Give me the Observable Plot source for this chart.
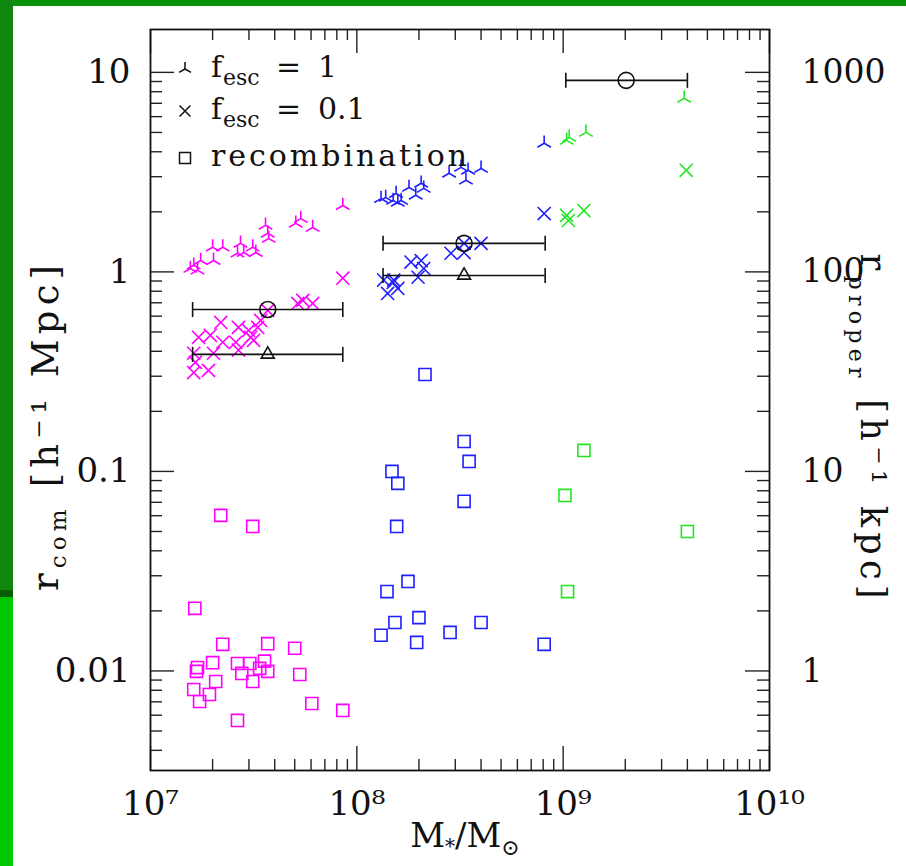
<!DOCTYPE html>
<html><head><meta charset="utf-8">
<script src="https://cdn.jsdelivr.net/npm/d3@7"></script>
<script src="https://cdn.jsdelivr.net/npm/@observablehq/plot@0.6"></script>
<style>
body{margin:0;background:#fff;}
#wrap{position:relative;width:906px;height:866px;overflow:hidden;background:#fff;}
#wrap svg{position:absolute;left:0;top:0;}
.strip{position:absolute;}
</style></head><body>
<div id="wrap"></div>
<script>
// ---- data (stellar mass M*/Msun, comoving radius h^-1 Mpc) ----
const magentaTri = [[1.56e7,1.04],[1.62e7,1.08],[1.69e7,1.02],[1.75e7,1.14],[2.00e7,1.33],[2.02e7,1.14],[2.24e7,1.33],[2.64e7,1.24],[2.73e7,1.39],[2.83e7,1.25],[3.13e7,1.33],[3.24e7,1.25],[3.61e7,1.71],[3.70e7,1.56],[3.74e7,1.47],[5.06e7,1.75],[5.35e7,1.85],[6.11e7,1.67],[8.55e7,2.15]];
const magentaX = [[8.55e7,0.93],[5.17e7,0.695],[5.47e7,0.72],[6.11e7,0.695],[3.70e7,0.641],[3.42e7,0.571],[2.19e7,0.558],[1.71e7,0.470],[1.95e7,0.481],[2.67e7,0.527],[2.99e7,0.509],[3.31e7,0.527],[2.24e7,0.444],[2.59e7,0.444],[3.06e7,0.470],[3.16e7,0.454],[2.67e7,0.405],[2.02e7,0.391],[1.62e7,0.391],[1.65e7,0.352],[1.62e7,0.313],[1.91e7,0.321]];
const magentaSq = [[2.19e7,0.0602],[3.13e7,0.0530],[1.64e7,0.0206],[2.24e7,0.0136],[3.70e7,0.0137],[5.00e7,0.0130],[2.00e7,0.0110],[2.64e7,0.0109],[3.03e7,0.0109],[3.57e7,0.0112],[1.69e7,0.0104],[1.67e7,0.00995],[2.77e7,0.00972],[3.38e7,0.0103],[3.70e7,0.00995],[5.29e7,0.0096],[2.07e7,0.00885],[3.13e7,0.00885],[1.62e7,0.00807],[1.93e7,0.00762],[1.73e7,0.00703],[6.05e7,0.00687],[8.55e7,0.00634],[2.64e7,0.00565]];
const blueTri = [[1.31e8,2.33],[1.38e8,2.36],[1.50e8,2.28],[1.55e8,2.47],[1.58e8,2.23],[1.64e8,2.28],[1.79e8,2.65],[1.93e8,2.42],[2.05e8,2.78],[2.11e8,2.62],[2.80e8,3.12],[3.20e8,3.34],[3.38e8,2.88],[3.46e8,3.23],[4.00e8,3.30],[8.09e8,4.41]];
const blueX = [[8.09e8,1.96],[2.86e8,1.24],[3.31e8,1.25],[4.00e8,1.39],[3.31e8,1.39],[1.83e8,1.12],[2.05e8,1.14],[2.11e8,1.04],[1.98e8,0.94],[1.35e8,0.91],[1.51e8,0.91],[1.50e8,0.885],[1.41e8,0.78],[1.58e8,0.826]];
const blueSq = [[2.14e8,0.306],[3.31e8,0.1413],[3.50e8,0.1122],[1.48e8,0.100],[1.58e8,0.0871],[3.31e8,0.0708],[1.56e8,0.0530],[1.77e8,0.0281],[1.40e8,0.0250],[2.00e8,0.0185],[1.53e8,0.0175],[1.31e8,0.0151],[1.95e8,0.0139],[2.83e8,0.0156],[4.00e8,0.0175],[8.09e8,0.0136]];
const greenTri = [[1.04e9,4.56],[1.07e9,4.72],[1.29e9,5.00],[3.86e9,7.41]];
const greenX = [[3.95e9,3.23],[1.04e9,1.92],[1.06e9,1.81],[1.26e9,2.03]];
const greenSq = [[1.26e9,0.1274],[1.02e9,0.0758],[1.05e9,0.0250],[4.00e9,0.0500]];
const summaryCircle = [[3.70e7,0.648],[3.31e8,1.39],[2.02e9,9.12]];
const summaryTri = [[3.70e7,0.386],[3.31e8,0.96]];
const errorBars = [[1.60e7,8.55e7,0.648],[1.34e8,8.18e8,1.39],[1.03e9,4.00e9,9.12],[1.60e7,8.55e7,0.386],[1.34e8,8.18e8,0.96]];

const xMajor = [1e7,1e8,1e9,1e10];
const xLabels = ["10⁷","10⁸","10⁹","10¹⁰"];
const yMajor = [0.01,0.1,1,10];
const yLeftLabels = ["0.01","0.1","1","10"];
const yRightLabels = ["1","10","100","1000"];
const yDomain = [0.00317,16.4];

const MAGENTA = "#ff00ff", BLUE = "#1f1fff", GREEN = "#22e622";

// ---- symbols ----
const tripod = {draw(ctx, size){ const r = Math.sqrt(size/Math.PI)*1.15;
  ctx.moveTo(0,0); ctx.lineTo(0,-r);
  ctx.moveTo(0,0); ctx.lineTo(r*0.866,r*0.5);
  ctx.moveTo(0,0); ctx.lineTo(-r*0.866,r*0.5);}};
const capBar = {draw(ctx, size){ const h = Math.sqrt(size/Math.PI); ctx.moveTo(0,-h); ctx.lineTo(0,h);}};

const W = 906, H = 866, mL = 150, mR = 137, mT = 29, mB = 96;
const innerW = W - mL - mR, innerH = H - mT - mB;
const decadesX = [1e7,1e8,1e9];
const xMinor = decadesX.flatMap(d => [2,3,4,5,6,7,8,9].map(k => k*d));
const yMinor = [1e-3,1e-2,1e-1,1,10].flatMap(d => [2,3,4,5,6,7,8,9].map(k => k*d)).filter(v => v > yDomain[0] && v < yDomain[1]);

const pt = d => ({x: d[0], y: d[1]});
const series = (arr, symbol, color, r) => Plot.dot(arr.map(pt), {x:"x", y:"y", symbol, r, stroke: color, fill:"none", strokeWidth:1.6});

const tickStyle = {stroke:"#222", strokeWidth:1.4};
const chart = Plot.plot({
  width: W, height: H, marginLeft: mL, marginRight: mR, marginTop: mT, marginBottom: mB,
  style: {fontFamily: "DejaVu Serif", background: "transparent", color: "#111"},
  x: {type: "log", domain: [1e7, 1e10]},
  y: {type: "log", domain: yDomain},
  marks: [
    series(magentaSq, "square", MAGENTA, 6.8),
    series(blueSq, "square", BLUE, 6.8),
    series(greenSq, "square", GREEN, 6.8),
    series(magentaX, "times", MAGENTA, 6),
    series(blueX, "times", BLUE, 6),
    series(greenX, "times", GREEN, 6),
    series(magentaTri, tripod, MAGENTA, 6.8),
    series(blueTri, tripod, BLUE, 6.8),
    series(greenTri, tripod, GREEN, 6.8),
    Plot.ruleY(errorBars, {y: d => d[2], x1: d => d[0], x2: d => d[1], stroke: "#111", strokeWidth: 1.6}),
    Plot.dot(errorBars, {x: d => d[0], y: d => d[2], symbol: capBar, r: 7.5, stroke: "#111", fill: "none", strokeWidth: 1.6}),
    Plot.dot(errorBars, {x: d => d[1], y: d => d[2], symbol: capBar, r: 7.5, stroke: "#111", fill: "none", strokeWidth: 1.6}),
    Plot.dot(summaryCircle.map(pt), {x:"x", y:"y", symbol:"circle", r: 8, stroke:"#111", fill:"none", strokeWidth:1.6}),
    Plot.dot(summaryTri.map(pt), {x:"x", y:"y", symbol:"triangle", r: 4.8, stroke:"#111", fill:"none", strokeWidth:1.6}),
    // inward ticks on all four sides
    Plot.tickX(xMinor, {x: d => d, insetBottom: innerH - 11, ...tickStyle}),
    Plot.tickX(xMinor, {x: d => d, insetTop: innerH - 11, ...tickStyle}),
    Plot.tickX(xMajor, {x: d => d, insetBottom: innerH - 24, ...tickStyle}),
    Plot.tickX(xMajor, {x: d => d, insetTop: innerH - 24, ...tickStyle}),
    Plot.tickY(yMinor, {y: d => d, insetRight: innerW - 12, ...tickStyle}),
    Plot.tickY(yMinor, {y: d => d, insetLeft: innerW - 12, ...tickStyle}),
    Plot.tickY(yMajor, {y: d => d, insetRight: innerW - 24, ...tickStyle}),
    Plot.tickY(yMajor, {y: d => d, insetLeft: innerW - 24, ...tickStyle}),
    Plot.frame({stroke: "#111", strokeWidth: 1.8}),
    Plot.axisX({anchor: "bottom", ticks: xMajor, tickSize: 0, tickPadding: 20, fontSize: 34, label: null,
      tickFormat: d => xLabels[xMajor.indexOf(d)]}),
    Plot.axisY({anchor: "left", ticks: yMajor, tickSize: 0, tickPadding: 20, fontSize: 34, label: null,
      tickFormat: d => yLeftLabels[yMajor.indexOf(d)]}),
    Plot.axisY({anchor: "right", ticks: yMajor, tickSize: 0, tickPadding: 32, fontSize: 33, label: null,
      tickFormat: d => yRightLabels[yMajor.indexOf(d)]})
  ]
});
const wrap = document.getElementById("wrap");
wrap.appendChild(chart);

// ---- legend and axis titles ----
const svg = d3.select(chart);
const g = svg.append("g").attr("font-family", "DejaVu Serif").attr("fill", "#111").attr("text-anchor", "start");
const legendRows = [
  {sym: tripod, size: Math.PI*36, base: 77, main: "1"},
  {sym: d3.symbolTimes, size: 80, base: 119, main: "0.1"},
  {sym: d3.symbolSquare, size: 121, base: 166, main: null}
];
legendRows.forEach(row => {
  g.append("path").attr("transform", `translate(185,${row.base - 8})`)
    .attr("d", d3.symbol(row.sym, row.size)()).attr("fill", "none").attr("stroke", "#111").attr("stroke-width", 1.5);
  if (row.main) {
    const t = g.append("text").attr("font-size", 30);
    t.append("tspan").attr("x", 211).attr("y", row.base).text("f");
    t.append("tspan").attr("x", 223).attr("y", row.base + 8).attr("font-size", 22).text("esc");
    t.append("tspan").attr("x", 276).attr("y", row.base).text("=");
    t.append("tspan").attr("x", 318).attr("y", row.base).text(row.main);
  } else {
    g.append("text").attr("x", 211).attr("y", row.base).attr("font-size", 30)
      .attr("textLength", 256).attr("lengthAdjust", "spacing").text("recombination");
  }
});
// left title
const lt = g.append("text").attr("transform", "translate(58,428) rotate(-90)").attr("text-anchor", "middle")
  .attr("font-size", 37).attr("textLength", 326).attr("lengthAdjust", "spacing");
lt.append("tspan").text("r");
lt.append("tspan").attr("font-size", 23).attr("dy", 8).text("com");
lt.append("tspan").attr("dy", -8).text(" [h⁻¹ Mpc]");
// right title
const rt = g.append("text").attr("transform", "translate(861,426) rotate(90)").attr("text-anchor", "middle")
  .attr("font-size", 35).attr("textLength", 345).attr("lengthAdjust", "spacing");
rt.append("tspan").text("r");
rt.append("tspan").attr("font-size", 22).attr("dy", 12).text("proper");
rt.append("tspan").attr("dy", -12).text(" [h⁻¹ kpc]");
// bottom title
const bt = g.append("text").attr("x", 465).attr("y", 847).attr("text-anchor", "middle").attr("font-size", 34);
bt.append("tspan").text("M");
bt.append("tspan").attr("font-size", 20).attr("dy", 6).text("*");
bt.append("tspan").attr("dy", -6).text("/M");
bt.append("tspan").attr("font-size", 22).attr("dy", 8).text("⊙");

// ---- slide frame strips ----
[["0px","0px","906px","6px","#0a900a"],["0px","0px","13px","590px","#0f870f"],["0px","590px","13px","7px","#075e07"],["0px","597px","13px","269px","#00c800"]]
  .forEach(([l,t,w,h,c]) => { const s = document.createElement("div"); s.className = "strip";
    Object.assign(s.style, {left:l, top:t, width:w, height:h, background:c}); wrap.appendChild(s); });
</script>
</body></html>
